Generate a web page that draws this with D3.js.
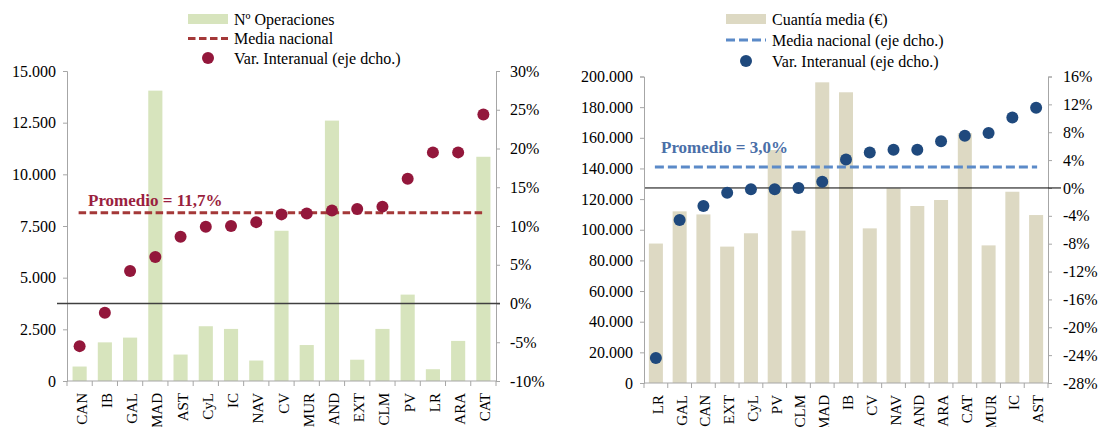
<!DOCTYPE html>
<html>
<head>
<meta charset="utf-8">
<script src="https://cdn.jsdelivr.net/npm/d3@7"></script>
<style>
  html, body { margin: 0; padding: 0; background: #fff; }
  svg { display: block; font-family: "Liberation Serif", "Times New Roman", serif; }
</style>
</head>
<body>
<svg id="chart" width="1101" height="427"></svg>
<script>
// --- left panel: number of operations ---
const opsCats = ["CAN","IB","GAL","MAD","AST","CyL","IC","NAV","CV","MUR","AND","EXT","CLM","PV","LR","ARA","CAT"];
const opsCount = [700,1870,2100,14050,1280,2650,2520,990,7270,1740,12600,1030,2520,4180,570,1940,10850];
const opsVar = [-5.5,-1.2,4.2,6.0,8.6,9.9,10.0,10.5,11.5,11.6,12.0,12.2,12.5,16.1,19.5,19.5,24.4];
const opsAvg = 11.7;
const opsLeftTicks = [0,2500,5000,7500,10000,12500,15000];
const opsRightTicks = [-10,-5,0,5,10,15,20,25,30];

// --- right panel: average amount ---
const amtCats = ["LR","GAL","CAN","EXT","CyL","PV","CLM","MAD","IB","CV","NAV","AND","ARA","CAT","MUR","IC","AST"];
const amtValue = [91000,112000,110000,89000,97700,152000,99400,196200,189700,100900,127000,115500,119400,163000,89800,124800,109600];
const amtVar = [-24.4,-4.6,-2.6,-0.7,-0.2,-0.2,0.0,0.9,4.1,5.1,5.5,5.5,6.7,7.5,7.9,10.1,11.5];
const amtAvg = 3.0;
const amtLeftTicks = [0,20000,40000,60000,80000,100000,120000,140000,160000,180000,200000];
const amtRightTicks = [-28,-24,-20,-16,-12,-8,-4,0,4,8,12,16];

const locale = d3.formatLocale({ decimal: ",", thousands: ".", grouping: [3], currency: ["", "€"] });
const fmtNum = locale.format(",.0f");
const fmtPct = d => d + "%";
const fmtDec = locale.format(".1f");

const svg = d3.select("#chart");
const axisColor = "#a6a6a6";
const tickFont = 16;
const catFont = 15;

function panel(o) {
  const g = svg.append("g");

  const x = d3.scaleBand().domain(o.cats).range([o.x0, o.x1])
    .paddingInner(o.pad).paddingOuter(o.pad / 2);
  const yL = d3.scaleLinear().domain(o.leftDomain).range([o.yBottom, o.yTop]);
  const yR = d3.scaleLinear().domain(o.rightDomain).range([o.yBottom, o.yTop]);
  const cx = d => x(d) + x.bandwidth() / 2;

  // bars
  g.append("g").selectAll("rect").data(o.cats).join("rect")
    .attr("x", d => x(d))
    .attr("y", (d, i) => yL(o.bars[i]))
    .attr("width", x.bandwidth())
    .attr("height", (d, i) => yL(0) - yL(o.bars[i]))
    .attr("fill", o.barColor);

  // left axis
  g.append("g")
    .attr("transform", `translate(${o.x0},0)`)
    .call(d3.axisLeft(yL).tickValues(o.leftTicks).tickFormat(fmtNum).tickSize(4).tickPadding(7))
    .attr("font-family", null).attr("font-size", tickFont)
    .call(ax => ax.selectAll("path,line").attr("stroke", axisColor))
    .call(ax => ax.selectAll("text").attr("fill", "#000"));

  // right axis
  g.append("g")
    .attr("transform", `translate(${o.x1},0)`)
    .call(d3.axisRight(yR).tickValues(o.rightTicks).tickFormat(fmtPct).tickSize(4).tickPadding(o.rPad))
    .attr("font-family", null).attr("font-size", tickFont)
    .call(ax => ax.selectAll("path,line").attr("stroke", axisColor))
    .call(ax => ax.selectAll("text").attr("fill", "#000"));

  // bottom axis line with ticks at category boundaries
  const bottom = g.append("g");
  bottom.append("line")
    .attr("x1", o.x0).attr("x2", o.x1)
    .attr("y1", yL(0)).attr("y2", yL(0))
    .attr("stroke", axisColor);
  bottom.selectAll("line.tk").data(d3.range(o.cats.length + 1)).join("line")
    .attr("class", "tk")
    .attr("x1", i => o.x0 + i * x.step()).attr("x2", i => o.x0 + i * x.step())
    .attr("y1", yL(0)).attr("y2", yL(0) + 5)
    .attr("stroke", axisColor);
  bottom.selectAll("text").data(o.cats).join("text")
    .attr("transform", d => `translate(${cx(d) + 7},${yL(0) + 12}) rotate(-90)`)
    .attr("text-anchor", "end")
    .attr("font-size", catFont)
    .text(d => d);

  // zero line on right axis
  g.append("line")
    .attr("x1", o.zeroX0).attr("x2", o.zeroX1)
    .attr("y1", yR(0)).attr("y2", yR(0))
    .attr("stroke", o.zeroColor).attr("stroke-width", o.zeroWidth);

  // national average
  const first = o.cats[0], last = o.cats[o.cats.length - 1];
  g.append("line")
    .attr("x1", cx(first) - 1)
    .attr("x2", cx(last) + 1)
    .attr("y1", yR(o.avg)).attr("y2", yR(o.avg))
    .attr("stroke", o.lineColor).attr("stroke-width", 3)
    .attr("stroke-dasharray", o.dash);

  g.append("text")
    .attr("x", o.avgTextX)
    .attr("y", yR(o.avg) + o.avgTextDy)
    .attr("font-size", 17).attr("font-weight", "bold")
    .attr("fill", o.avgTextColor)
    .text("Promedio = " + fmtDec(o.avg) + "%");

  // year-on-year dots
  g.append("g").selectAll("circle").data(o.cats).join("circle")
    .attr("cx", cx)
    .attr("cy", (d, i) => yR(o.dots[i]))
    .attr("r", 6)
    .attr("fill", o.dotColor);

  // legend
  const lg = g.append("g").attr("font-size", tickFont);
  const lx = o.legX, ly = o.legY, step = o.legStep;
  lg.append("rect").attr("x", lx).attr("y", ly - 5).attr("width", 40).attr("height", 10).attr("fill", o.barColor);
  lg.append("line").attr("x1", lx).attr("x2", lx + 40).attr("y1", ly + step).attr("y2", ly + step)
    .attr("stroke", o.lineColor).attr("stroke-width", 3).attr("stroke-dasharray", o.dash);
  lg.append("circle").attr("cx", lx + 20).attr("cy", ly + 2 * step).attr("r", 6).attr("fill", o.dotColor);
  o.legend.forEach((t, i) => {
    lg.append("text").attr("x", lx + 46).attr("y", ly + i * step + 5.5).text(t);
  });
}

panel({
  cats: opsCats, bars: opsCount, dots: opsVar, avg: opsAvg,
  leftDomain: [0, 15000], rightDomain: [-10, 30],
  leftTicks: opsLeftTicks, rightTicks: opsRightTicks,
  x0: 67, x1: 496, yTop: 71, yBottom: 381, rPad: 10, pad: 0.44,
  barColor: "#d7e4bd", dotColor: "#93173b", lineColor: "#a43838", dash: "7.5,3.5",
  avgTextColor: "#9a1f40", avgTextX: 88, avgTextDy: -7,
  zeroX0: 57, zeroX1: 500, zeroColor: "#404040", zeroWidth: 1.5,
  legX: 188, legY: 19, legStep: 19.5,
  legend: ["Nº Operaciones", "Media nacional", "Var. Interanual (eje dcho.)"]
});

panel({
  cats: amtCats, bars: amtValue, dots: amtVar, avg: amtAvg,
  leftDomain: [0, 200000], rightDomain: [-28, 16],
  leftTicks: amtLeftTicks, rightTicks: amtRightTicks,
  x0: 644, x1: 1048, yTop: 76.5, yBottom: 383, rPad: 11, pad: 0.41,
  barColor: "#ddd9c3", dotColor: "#1f497d", lineColor: "#5b8ac8", dash: "9,4",
  avgTextColor: "#4a6fa8", avgTextX: 661, avgTextDy: -14.5,
  zeroX0: 645, zeroX1: 1061, zeroColor: "#000", zeroWidth: 1,
  legX: 726, legY: 19, legStep: 21,
  legend: ["Cuantía media (€)", "Media nacional (eje dcho.)", "Var. Interanual (eje dcho.)"]
});
</script>
</body>
</html>
